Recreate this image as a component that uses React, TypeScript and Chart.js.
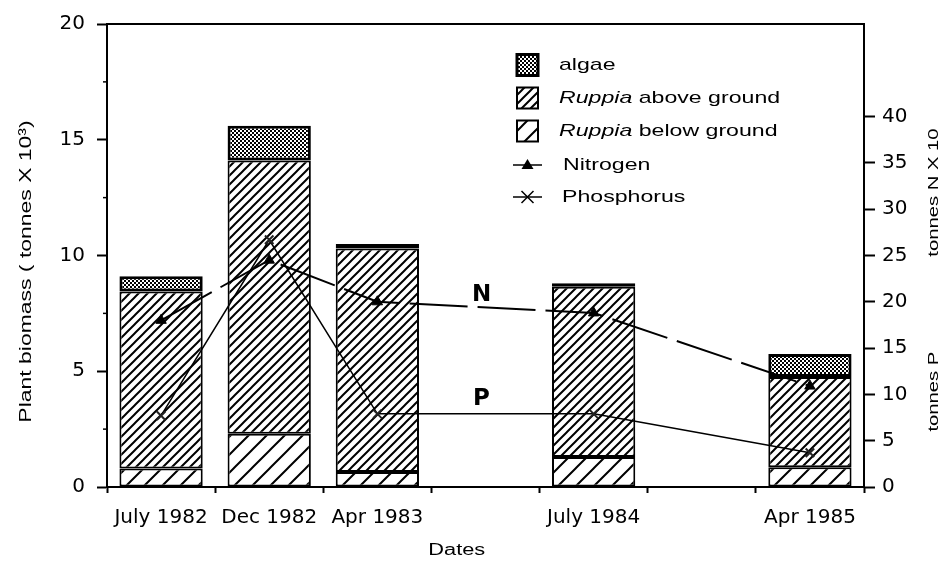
import React, { useEffect, useRef } from "react";
import { Chart, registerables } from "chart.js";

Chart.register(...registerables);

const categories = ["July 1982", "Dec 1982", "Apr 1983", "", "July 1984", "", "Apr 1985"];
const ruppiaBelow = [0.8, 2.3, 0.65, null, 1.3, null, 0.85];
const ruppiaAbove = [7.65, 11.8, 9.65, null, 7.35, null, 3.9];
const algae = [0.65, 1.5, 0.2, null, 0.15, null, 1.0];
const nitrogen = [18, 24.5, 20, null, 18.8, null, 10.9];
const phosphorus = [7.7, 26.7, 7.9, null, 7.9, null, 3.7];

const legendLabels = ["algae", "above ground", "below ground", "Nitrogen", "Phosphorus"];
const italicPrefix = "Ruppia";
const leftTitle = "Plant biomass ( tonnes X 10\u00B3)";
const rightTitleN = "tonnes N X 10";
const rightTitleP = "tonnes P";
const xTitle = "Dates";

const SANS = '"Liberation Sans", Arial, sans-serif';
const TICKFONT = '"DejaVu Sans", sans-serif';

function makeHatch(ctx: CanvasRenderingContext2D, p: number, lw: number) {
  const c = document.createElement("canvas");
  c.width = p;
  c.height = p;
  const g = c.getContext("2d")!;
  g.fillStyle = "#fff";
  g.fillRect(0, 0, p, p);
  g.strokeStyle = "#000";
  g.lineWidth = lw;
  g.beginPath();
  for (const o of [-p, 0, p]) {
    g.moveTo(o - 1, p + 1);
    g.lineTo(o + p + 1, -1);
  }
  g.stroke();
  return ctx.createPattern(c, "repeat")!;
}

function makeChecker(ctx: CanvasRenderingContext2D) {
  const c = document.createElement("canvas");
  c.width = 4;
  c.height = 4;
  const g = c.getContext("2d")!;
  g.fillStyle = "#fff";
  g.fillRect(0, 0, 4, 4);
  g.fillStyle = "#000";
  g.fillRect(0, 0, 2, 2);
  g.fillRect(2, 2, 2, 2);
  return ctx.createPattern(c, "repeat")!;
}

function txt(
  ctx: CanvasRenderingContext2D,
  s: string,
  x: number,
  y: number,
  font: string,
  sx: number,
  rot = 0,
  align: CanvasTextAlign = "center"
) {
  ctx.save();
  ctx.translate(x, y);
  ctx.rotate(rot);
  ctx.scale(sx, 1);
  ctx.font = font;
  ctx.fillStyle = "#000";
  ctx.textAlign = align;
  ctx.textBaseline = "middle";
  ctx.fillText(s, 0, 0);
  const w = ctx.measureText(s).width * sx;
  ctx.restore();
  return w;
}

export default function App() {
  const ref = useRef<HTMLCanvasElement | null>(null);

  useEffect(() => {
    const canvas = ref.current!;
    const ctx = canvas.getContext("2d")!;
    const pDense = makeHatch(ctx, 9, 2);
    const pSparse = makeHatch(ctx, 18, 2);
    const pAlgae = makeChecker(ctx);

    const decor = {
      id: "decor",
      afterDraw(chart: any) {
        const c: CanvasRenderingContext2D = chart.ctx;
        const ca = chart.chartArea;
        const y = chart.scales.y;
        const y1 = chart.scales.y1;
        const x = chart.scales.x;
        c.save();
        // top frame line
        c.strokeStyle = "#000";
        c.lineWidth = 2;
        c.beginPath();
        c.moveTo(ca.left - 1, ca.top);
        c.lineTo(ca.right + 1, ca.top);
        c.stroke();
        // minor ticks on left axis
        c.lineWidth = 1.5;
        for (const v of [2.5, 7.5, 12.5, 17.5]) {
          const py = y.getPixelForValue(v);
          c.beginPath();
          c.moveTo(ca.left, py);
          c.lineTo(ca.left - 4, py);
          c.stroke();
        }
        // axis titles
        txt(c, leftTitle, 26, (ca.top + ca.bottom) / 2 + 16, `17px ${SANS}`, 1.35, -Math.PI / 2);
        txt(c, rightTitleN, ca.right + 70, y1.getPixelForValue(31.8), `15px ${SANS}`, 1.35, -Math.PI / 2);
        txt(c, rightTitleP, ca.right + 70, y1.getPixelForValue(10.3), `15px ${SANS}`, 1.35, -Math.PI / 2);
        txt(c, xTitle, ca.left + (ca.right - ca.left) * 0.462, ca.bottom + 64, `16px ${SANS}`, 1.36);
        // N and P labels
        const mx = x.getPixelForValue(3) - 4;
        txt(c, "N", mx, y1.getPixelForValue(20.7), `bold 23px ${TICKFONT}`, 1);
        txt(c, "P", mx, y1.getPixelForValue(9.5), `bold 23px ${TICKFONT}`, 1);
        // legend
        const ix = ca.left + 410;
        const tx = ca.left + 452;
        const rows = [41, 74, 107, 141, 173].map((d) => ca.top + d);
        const box = 21;
        const fills = [pAlgae, pDense, pSparse];
        for (let i = 0; i < 3; i++) {
          const cy = rows[i];
          c.fillStyle = fills[i];
          c.fillRect(ix, cy - box / 2, box, box);
          c.lineWidth = i === 0 ? 3 : 2;
          c.strokeStyle = "#000";
          c.strokeRect(ix, cy - box / 2, box, box);
        }
        const lf = `17px ${SANS}`;
        const lfi = `italic 17px ${SANS}`;
        txt(c, legendLabels[0], tx, rows[0], lf, 1.36, 0, "left");
        for (let i = 1; i <= 2; i++) {
          const w = txt(c, italicPrefix, tx, rows[i], lfi, 1.36, 0, "left");
          txt(c, " " + legendLabels[i], tx + w, rows[i], lf, 1.36, 0, "left");
        }
        txt(c, legendLabels[3], tx + 4, rows[3], lf, 1.36, 0, "left");
        txt(c, legendLabels[4], tx + 3, rows[4], lf, 1.36, 0, "left");
        // legend line markers
        c.strokeStyle = "#000";
        c.lineWidth = 1.5;
        for (const r of [rows[3], rows[4]]) {
          c.beginPath();
          c.moveTo(ix - 4, r);
          c.lineTo(ix + box + 4, r);
          c.stroke();
        }
        const cx = ix + box / 2;
        c.fillStyle = "#000";
        c.beginPath();
        c.moveTo(cx, rows[3] - 6);
        c.lineTo(cx + 6, rows[3] + 4);
        c.lineTo(cx - 6, rows[3] + 4);
        c.closePath();
        c.fill();
        c.beginPath();
        c.moveTo(cx - 6, rows[4] - 6);
        c.lineTo(cx + 6, rows[4] + 6);
        c.moveTo(cx + 6, rows[4] - 6);
        c.lineTo(cx - 6, rows[4] + 6);
        c.stroke();
        c.restore();
      },
    };

    const chart = new Chart(canvas, {
      type: "bar",
      data: {
        labels: categories,
        datasets: [
          {
            type: "line",
            label: "Nitrogen",
            data: nitrogen,
            yAxisID: "y1",
            order: 0,
            borderColor: "#000",
            backgroundColor: "#000",
            borderWidth: 2,
            borderDash: [58, 10],
            pointStyle: "triangle",
            pointRadius: 6,
            pointBackgroundColor: "#000",
            pointBorderColor: "#000",
            pointBorderWidth: 1,
            spanGaps: true,
            tension: 0,
          } as any,
          {
            type: "line",
            label: "Phosphorus",
            data: phosphorus,
            yAxisID: "y1",
            order: 0,
            borderColor: "#000",
            backgroundColor: "#000",
            borderWidth: 1.5,
            pointStyle: "crossRot",
            pointRadius: 6,
            pointBorderColor: "#222",
            pointBorderWidth: 2,
            spanGaps: true,
            tension: 0,
          } as any,
          {
            label: "Ruppia below ground",
            data: ruppiaBelow,
            yAxisID: "y",
            order: 1,
            backgroundColor: pSparse,
            borderColor: "#000",
            borderWidth: 2,
            borderSkipped: false,
          } as any,
          {
            label: "Ruppia above ground",
            data: ruppiaAbove,
            yAxisID: "y",
            order: 1,
            backgroundColor: pDense,
            borderColor: "#000",
            borderWidth: 2,
            borderSkipped: false,
          } as any,
          {
            label: "algae",
            data: algae,
            yAxisID: "y",
            order: 1,
            backgroundColor: pAlgae,
            borderColor: "#000",
            borderWidth: 3,
            borderSkipped: false,
          } as any,
        ],
      },
      options: {
        animation: false,
        responsive: false,
        devicePixelRatio: 1,
        layout: { padding: { top: 20, left: 0, right: 0, bottom: 0 } },
        datasets: { bar: { barPercentage: 0.77, categoryPercentage: 1 } },
        plugins: { legend: { display: false }, tooltip: { enabled: false }, title: { display: false } },
        scales: {
          x: {
            type: "category",
            stacked: true,
            offset: true,
            afterFit: (s: any) => {
              s.height = 76;
            },
            grid: {
              display: true,
              offset: true,
              drawOnChartArea: false,
              drawTicks: true,
              tickLength: 6,
              tickWidth: 2,
              tickColor: "#000",
            },
            border: { display: true, color: "#000", width: 2 },
            ticks: {
              color: "#000",
              font: { family: "DejaVu Sans", size: 20 },
              padding: 13,
              maxRotation: 0,
              autoSkip: false,
            },
          },
          y: {
            type: "linear",
            position: "left",
            stacked: true,
            min: 0,
            max: 20,
            afterFit: (s: any) => {
              s.width = 107;
            },
            grid: {
              display: true,
              drawOnChartArea: false,
              drawTicks: true,
              tickLength: 10,
              tickWidth: 2,
              tickColor: (c: any) => (c.tick && c.tick.value % 5 === 0 ? "#000" : "rgba(0,0,0,0)"),
            },
            border: { display: true, color: "#000", width: 2 },
            ticks: {
              stepSize: 2.5,
              color: "#000",
              font: { family: "DejaVu Sans", size: 20 },
              padding: 12,
              callback: (v: any) => (Number(v) % 5 === 0 ? String(v) : ""),
            },
          },
          y1: {
            type: "linear",
            position: "right",
            min: 0,
            max: 50,
            afterFit: (s: any) => {
              s.width = 82;
            },
            grid: {
              display: true,
              drawOnChartArea: false,
              drawTicks: true,
              tickLength: 11,
              tickWidth: 2,
              tickColor: (c: any) => (c.tick && c.tick.value <= 40 ? "#000" : "rgba(0,0,0,0)"),
            },
            border: { display: true, color: "#000", width: 2 },
            ticks: {
              stepSize: 5,
              color: "#000",
              font: { family: "DejaVu Sans", size: 20 },
              padding: 7,
              callback: (v: any) => (Number(v) <= 40 ? String(v) : ""),
            },
          },
        },
      },
      plugins: [decor],
    } as any);

    return () => chart.destroy();
  }, []);

  return (
    <div style={{ position: "fixed", left: 0, top: 0, width: 946, height: 563, background: "#fff" }}>
      <canvas ref={ref} width={946} height={563} style={{ display: "block" }} />
    </div>
  );
}
